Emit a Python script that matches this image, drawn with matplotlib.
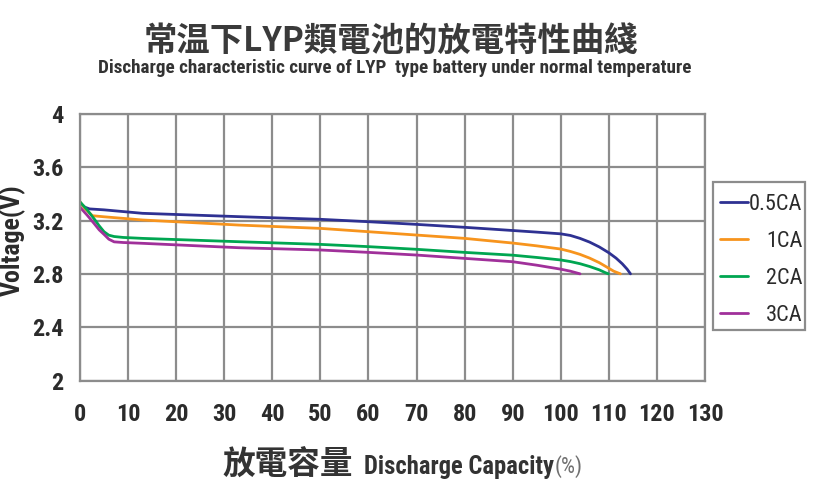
import os
import re
import matplotlib
matplotlib.use("Agg")
import matplotlib.pyplot as plt
from matplotlib import font_manager as fm
from matplotlib.patches import Rectangle

# discharge capacity (%) and voltage (V)
cap_05 = [0, 1, 2, 5, 13, 33, 50, 60, 70, 80, 90, 95, 100, 102, 104, 106, 108, 110, 111.5,
          112.8, 113.8, 114.5]
v_05 = [3.33, 3.30, 3.287, 3.28, 3.254, 3.229, 3.209, 3.191, 3.171, 3.149, 3.125, 3.113,
        3.10, 3.088, 3.066, 3.038, 3.002, 2.958, 2.918, 2.875, 2.835, 2.80]

cap_1 = [0, 1, 2.6, 5, 13, 33, 50, 60, 70, 80, 90, 95, 100, 102, 104, 106, 108, 109.7, 111,
         112.4]
v_1 = [3.34, 3.29, 3.236, 3.228, 3.204, 3.166, 3.141, 3.116, 3.091, 3.066, 3.031, 3.01,
       2.986, 2.968, 2.946, 2.918, 2.884, 2.848, 2.82, 2.80]

cap_2 = [0, 1.5, 3, 4, 5, 6, 7.1, 9, 13, 33, 50, 60, 70, 80, 90, 95, 100, 102, 104, 106,
         108, 109.2, 109.9]
v_2 = [3.34, 3.28, 3.21, 3.16, 3.116, 3.09, 3.08, 3.073, 3.066, 3.041, 3.021, 3.004, 2.984,
       2.961, 2.94, 2.923, 2.904, 2.892, 2.876, 2.855, 2.83, 2.81, 2.80]

cap_3 = [0, 1.5, 3, 4, 5, 6, 7.1, 9, 13, 33, 50, 60, 70, 80, 90, 95, 100, 102, 104]
v_3 = [3.30, 3.24, 3.175, 3.13, 3.096, 3.06, 3.04, 3.035, 3.029, 2.996, 2.979, 2.961, 2.941,
       2.916, 2.891, 2.865, 2.835, 2.82, 2.80]

series = [
    ("0.5CA", cap_05, v_05, "#2e3192"),
    ("1CA", cap_1, v_1, "#f7941d"),
    ("2CA", cap_2, v_2, "#00a651"),
    ("3CA", cap_3, v_3, "#a0309a"),
]

x_ticks = list(range(0, 131, 10))
y_ticks = [2, 2.4, 2.8, 3.2, 3.6, 4]
y_tick_labels = ["2", "2.4", "2.8", "3.2", "3.6", "4"]

title_zh = "常温下LYP類電池的放電特性曲綫"
title_en = "Discharge characteristic curve of LYP  type battery under normal temperature"
xcap_zh = "放電容量"
xcap_en = "Discharge Capacity"
xcap_unit = "(%)"
y_caption = "Voltage(V)"


def pick_narrow(target_weight):
    """Look for an installed narrow / condensed sans face (reference uses Arial Narrow)."""
    order = ["liberationsansnarrow", "arialnarrow", "robotocondensed", "notosans-condensed",
             "opensans-condensed", "opensanscondensed", "notosans-semicondensed",
             "dejavusanscondensed"]
    best = None
    for f in fm.fontManager.ttflist:
        base = os.path.basename(f.fname).lower()
        if "italic" in base or "oblique" in base or "mono" in base:
            continue
        if "serif" in base and "sans" not in base:
            continue
        if not (re.search("narrow|condensed|cond", base) or f.stretch == "condensed"):
            continue
        if "extracondensed" in base or "ultracondensed" in base:
            continue
        rank = len(order)
        for i, key in enumerate(order):
            if key in base.replace("_", "-").replace(" ", ""):
                rank = i
                break
        w = f.weight if isinstance(f.weight, int) else fm.weight_dict.get(f.weight, 400)
        score = (rank, abs(w - target_weight))
        if best is None or score < best[0]:
            best = (score, f.fname)
    return best[1] if best else None


f_bold = pick_narrow(700)
f_reg = pick_narrow(400)


def narrow(size, bold=False):
    path = f_bold if bold else f_reg
    if path:
        return fm.FontProperties(fname=path, size=size)
    return fm.FontProperties(family="DejaVu Sans", size=size * 0.85,
                             weight="bold" if bold else "normal")


CJK = ["Noto Sans CJK TC", "DejaVu Sans"]
GRID = "#8c8c8c"
TXT = "#2b2b2b"
W, H = 816, 492

fig = plt.figure(figsize=(W / 100, H / 100), dpi=100)
ax = fig.add_axes([0.098, 0.2266, 0.766, 0.542])

for name, xs, ys, col in series:
    ax.plot(xs, ys, color=col, lw=2.0, label=name, solid_joinstyle="round",
            solid_capstyle="round")

ax.set_xlim(0, 130)
ax.set_ylim(2, 4)
ax.set_xticks(x_ticks)
ax.set_yticks(y_ticks)
ax.set_yticklabels(y_tick_labels)
ax.grid(True, color=GRID, lw=1.6)
ax.set_axisbelow(True)
for sp in ax.spines.values():
    sp.set_color(GRID)
    sp.set_linewidth(1.6)
ax.tick_params(length=0)
ax.tick_params(axis="x", pad=16)
ax.tick_params(axis="y", pad=12)
for lab in ax.get_xticklabels():
    lab.set_fontproperties(narrow(17.5, bold=True))
    lab.set_color(TXT)
for lab in ax.get_yticklabels():
    lab.set_fontproperties(narrow(17.5, bold=True))
    lab.set_color(TXT)

ylab = ax.set_ylabel(y_caption, fontproperties=narrow(16, bold=True), color=TXT)
ax.yaxis.set_label_coords(-0.087, 0.525)

# titles
t_zh = fig.text(391 / W, 1 - 41 / H, title_zh, family=CJK, fontsize=24,
                fontweight="bold", color="#3a3a3a", ha="center", va="center")
t_en = fig.text(395 / W, 1 - 68 / H, title_en, fontproperties=narrow(14, bold=True),
                color="#333333", ha="center", va="center")

# x axis caption in three pieces
c_zh = fig.text(222 / W, 1 - 465 / H, xcap_zh, family=CJK, fontsize=23.5,
                fontweight="bold", color="#333333", ha="left", va="center")
c_en = fig.text(364 / W, 1 - 467 / H, xcap_en, fontproperties=narrow(16, bold=True),
                color="#333333", ha="left", va="center")
c_unit = fig.text(554 / W, 1 - 467 / H, xcap_unit, fontproperties=narrow(16),
                  color="#707070", ha="left", va="center")

# legend without its own frame; the box is drawn around it afterwards
leg = ax.legend(loc="upper left", bbox_to_anchor=(720 / W, 1 - 194 / H),
                bbox_transform=fig.transFigure, borderaxespad=0, frameon=False,
                prop=narrow(16), handlelength=1.25, handletextpad=0.05,
                labelspacing=0.72, borderpad=0)
for t in leg.get_texts():
    t.set_color(TXT)

fig.canvas.draw()
renderer = fig.canvas.get_renderer()

# fit the wide texts to the widths measured on the reference
for txt, target in [(t_en, 596), (c_en, 190)]:
    w = txt.get_window_extent(renderer).width
    txt.set_fontsize(txt.get_fontsize() * target / w)
h = ylab.get_window_extent(renderer).height
ylab.set_fontsize(ylab.get_fontsize() * 112 / h)
fig.canvas.draw()
bb = c_en.get_window_extent(renderer)
c_unit.set_x((bb.x1 + 1) / W)

# right-align the legend labels
widths = [t.get_window_extent(renderer).width for t in leg.get_texts()]
wmax = max(widths)
for t, w in zip(leg.get_texts(), widths):
    t.set_x(wmax - w)

# legend box: more room above the entries than below, as in the reference
lb = leg.get_window_extent(renderer)
x0, x1 = lb.x0 - 7, lb.x1 + 3
y0, y1 = lb.y0 - 4, lb.y1 + 12
fig.add_artist(Rectangle((x0 / W, y0 / H), (x1 - x0) / W, (y1 - y0) / H,
                         transform=fig.transFigure, facecolor="none", edgecolor=GRID,
                         lw=1.6, zorder=6))

fig.savefig("out.png", dpi=100)
